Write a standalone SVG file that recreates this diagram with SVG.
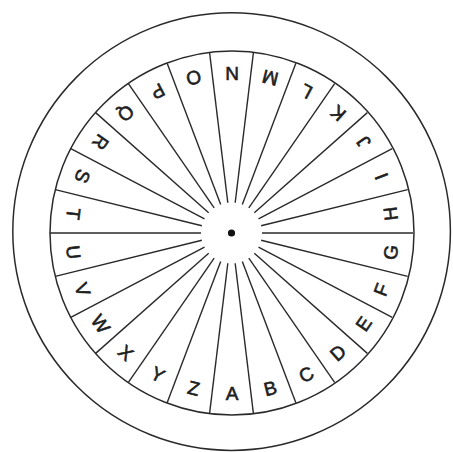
<svg xmlns="http://www.w3.org/2000/svg" xmlns:xlink="http://www.w3.org/1999/xlink" width="453" height="452" viewBox="0 0 453 452">
<style>
.ring{fill:none;stroke:#2a2a2a;stroke-width:1.5}
.spoke{stroke:#2a2a2a;stroke-width:1.4}
.lt{font-family:"Liberation Sans",Arial,sans-serif;font-size:19px;fill:#1e1e1e;stroke:#1e1e1e;stroke-width:0.6;text-anchor:middle}
</style>
<defs>
<line id="sp" class="spoke" x1="262.5" y1="233" x2="413.5" y2="233"/>
</defs>
<rect width="453" height="452" fill="#fff"/>
<g id="rings">
<circle class="ring" cx="231.6" cy="231.6" r="218.8"/>
<circle class="ring" cx="232" cy="233" r="182"/>
<circle cx="231.5" cy="233" r="3.6" fill="#111"/>
</g>
<g id="spokes" transform="translate(-0.5 0)">
<use xlink:href="#sp" transform="rotate(0 232 233)"/>
<use xlink:href="#sp" transform="rotate(13.846 232 233)"/>
<use xlink:href="#sp" transform="rotate(27.692 232 233)"/>
<use xlink:href="#sp" transform="rotate(41.538 232 233)"/>
<use xlink:href="#sp" transform="rotate(55.385 232 233)"/>
<use xlink:href="#sp" transform="rotate(69.231 232 233)"/>
<use xlink:href="#sp" transform="rotate(83.077 232 233)"/>
<use xlink:href="#sp" transform="rotate(96.923 232 233)"/>
<use xlink:href="#sp" transform="rotate(110.769 232 233)"/>
<use xlink:href="#sp" transform="rotate(124.615 232 233)"/>
<use xlink:href="#sp" transform="rotate(138.462 232 233)"/>
<use xlink:href="#sp" transform="rotate(152.308 232 233)"/>
<use xlink:href="#sp" transform="rotate(166.154 232 233)"/>
<use xlink:href="#sp" transform="rotate(180 232 233)"/>
<use xlink:href="#sp" transform="rotate(193.846 232 233)"/>
<use xlink:href="#sp" transform="rotate(207.692 232 233)"/>
<use xlink:href="#sp" transform="rotate(221.538 232 233)"/>
<use xlink:href="#sp" transform="rotate(235.385 232 233)"/>
<use xlink:href="#sp" transform="rotate(249.231 232 233)"/>
<use xlink:href="#sp" transform="rotate(263.077 232 233)"/>
<use xlink:href="#sp" transform="rotate(276.923 232 233)"/>
<use xlink:href="#sp" transform="rotate(290.769 232 233)"/>
<use xlink:href="#sp" transform="rotate(304.615 232 233)"/>
<use xlink:href="#sp" transform="rotate(318.462 232 233)"/>
<use xlink:href="#sp" transform="rotate(332.308 232 233)"/>
<use xlink:href="#sp" transform="rotate(346.154 232 233)"/>
</g>
<g id="letters">
<text class="lt" x="232" y="399.5" transform="rotate(0 232 233)">A</text>
<text class="lt" x="232" y="399.5" transform="rotate(-13.846 232 233)">B</text>
<text class="lt" x="232" y="399.5" transform="rotate(-27.692 232 233)">C</text>
<text class="lt" x="232" y="399.5" transform="rotate(-41.538 232 233)">D</text>
<text class="lt" x="232" y="399.5" transform="rotate(-55.385 232 233)">E</text>
<text class="lt" x="232" y="399.5" transform="rotate(-69.231 232 233)">F</text>
<text class="lt" x="232" y="399.5" transform="rotate(-83.077 232 233)">G</text>
<text class="lt" x="232" y="399.5" transform="rotate(-96.923 232 233)">H</text>
<text class="lt" x="232" y="399.5" transform="rotate(-110.769 232 233)">I</text>
<text class="lt" x="232" y="399.5" transform="rotate(-124.615 232 233)">J</text>
<text class="lt" x="232" y="399.5" transform="rotate(-138.462 232 233)">K</text>
<text class="lt" x="232" y="399.5" transform="rotate(-152.308 232 233)">L</text>
<text class="lt" x="232" y="399.5" transform="rotate(-166.154 232 233)">M</text>
<text class="lt" x="232" y="399.5" transform="rotate(-180 232 233)">N</text>
<text class="lt" x="232" y="399.5" transform="rotate(-193.846 232 233)">O</text>
<text class="lt" x="232" y="399.5" transform="rotate(-207.692 232 233)">P</text>
<text class="lt" x="232" y="399.5" transform="rotate(-221.538 232 233)">Q</text>
<text class="lt" x="232" y="399.5" transform="rotate(-235.385 232 233)">R</text>
<text class="lt" x="232" y="399.5" transform="rotate(-249.231 232 233)">S</text>
<text class="lt" x="232" y="399.5" transform="rotate(-263.077 232 233)">T</text>
<text class="lt" x="232" y="399.5" transform="rotate(-276.923 232 233)">U</text>
<text class="lt" x="232" y="399.5" transform="rotate(-290.769 232 233)">V</text>
<text class="lt" x="232" y="399.5" transform="rotate(-304.615 232 233)">W</text>
<text class="lt" x="232" y="399.5" transform="rotate(-318.462 232 233)">X</text>
<text class="lt" x="232" y="399.5" transform="rotate(-332.308 232 233)">Y</text>
<text class="lt" x="232" y="399.5" transform="rotate(-346.154 232 233)">Z</text>
</g>
</svg>
